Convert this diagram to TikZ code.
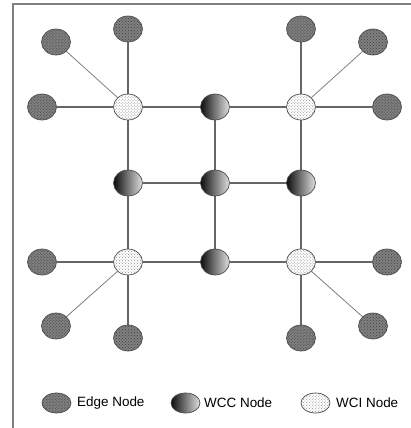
\documentclass[tikz,border=0pt]{standalone}
\usepackage{fontspec}
\setmainfont{Liberation Sans}
\usetikzlibrary{patterns,shapes.geometric,backgrounds}
\begin{document}
\begin{tikzpicture}[x=1bp,y=-1bp,
  base/.style={ellipse, draw=black!70, line width=0.7bp, inner sep=0pt,
    minimum width=29bp, minimum height=26bp},
  edgenode/.style={base, preaction={fill=black!50}, pattern=crosshatch dots, pattern color=black!75},
  wccnode/.style={base, left color=black!95, right color=black!12},
  wcinode/.style={base, preaction={fill=white}, pattern=crosshatch dots, pattern color=black!45},
  small/.style={minimum height=20bp},
  link/.style={draw=black!60, line width=1.1bp},
  diag/.style={draw=black!50, line width=0.8bp},
  lbl/.style={anchor=west, inner sep=0pt, font=\fontsize{13.5}{16}\selectfont}
]
\useasboundingbox (0,0) rectangle (411,428);
\draw[black!50, line width=1.2bp] (13,428) -- (13,4) -- (411,4);

% core grid
\node[wcinode] (wciTL) at (128,107) {};
\node[wccnode] (wccT)  at (215,107) {};
\node[wcinode] (wciTR) at (301,107) {};
\node[wccnode] (wccL)  at (128,183) {};
\node[wccnode] (wccM)  at (215,183) {};
\node[wccnode] (wccR)  at (301,183) {};
\node[wcinode] (wciBL) at (128,262) {};
\node[wccnode] (wccB)  at (215,262) {};
\node[wcinode] (wciBR) at (301,262) {};

% edge nodes
\node[edgenode] (eTL1) at (128,29) {};
\node[edgenode] (eTL2) at (56,42) {};
\node[edgenode] (eTL3) at (42,107) {};
\node[edgenode] (eTR1) at (301,29) {};
\node[edgenode] (eTR2) at (373,42) {};
\node[edgenode] (eTR3) at (387,107) {};
\node[edgenode] (eBL1) at (42,262) {};
\node[edgenode] (eBL2) at (56,326) {};
\node[edgenode] (eBL3) at (128,338) {};
\node[edgenode] (eBR1) at (387,262) {};
\node[edgenode] (eBR2) at (373,326) {};
\node[edgenode] (eBR3) at (301,338) {};

\begin{scope}[on background layer]
  \draw[link] (wciTL) -- (wccT) -- (wciTR);
  \draw[link] (wccL) -- (wccM) -- (wccR);
  \draw[link] (wciBL) -- (wccB) -- (wciBR);
  \draw[link] (wciTL) -- (wccL) -- (wciBL);
  \draw[link] (wccT) -- (wccM) -- (wccB);
  \draw[link] (wciTR) -- (wccR) -- (wciBR);
  \draw[link] (wciTL) -- (eTL1);
  \draw[link] (wciTL) -- (eTL3);
  \draw[diag] (wciTL) -- (eTL2);
  \draw[link] (wciTR) -- (eTR1);
  \draw[link] (wciTR) -- (eTR3);
  \draw[diag] (wciTR) -- (eTR2);
  \draw[link] (wciBL) -- (eBL1);
  \draw[link] (wciBL) -- (eBL3);
  \draw[diag] (wciBL) -- (eBL2);
  \draw[link] (wciBR) -- (eBR1);
  \draw[link] (wciBR) -- (eBR3);
  \draw[diag] (wciBR) -- (eBR2);
\end{scope}

% legend
\node[edgenode, small] (lgE) at (56.5,403) {};
\node[lbl] (lgEt) at (77,403) {Edge Node};
\node[wccnode, small] (lgC) at (185.5,403) {};
\node[lbl] (lgCt) at (204,403) {WCC Node};
\node[wcinode, small] (lgI) at (315.5,403) {};
\node[lbl] (lgIt) at (336,403) {WCI Node};
\end{tikzpicture}
\end{document}
